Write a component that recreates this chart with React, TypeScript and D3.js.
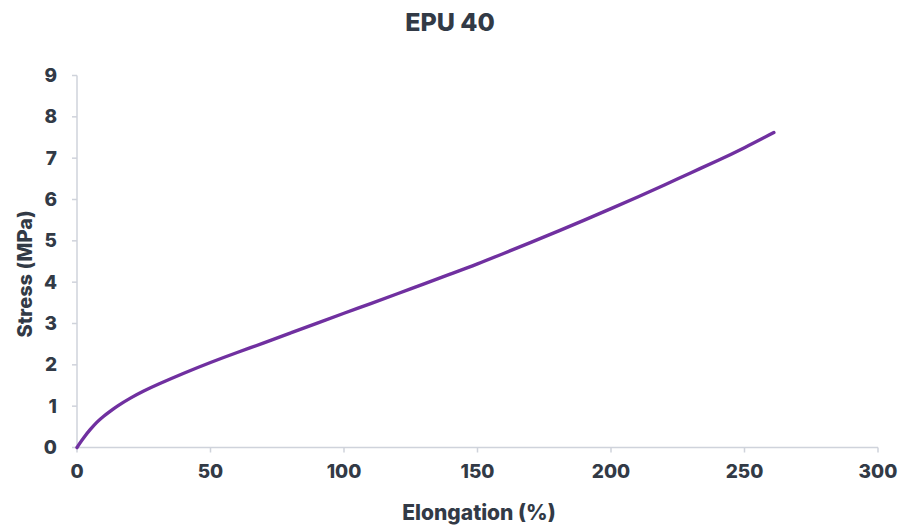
import React from "react";
import * as d3 from "d3";

const elongation = [0, 1, 2.5, 5, 7.5, 10, 12.5, 15, 20, 25, 30, 40, 50, 60, 70, 80, 90, 100, 110, 120, 130, 140, 150, 160, 170, 180, 190, 200, 210, 220, 230, 240, 250, 261];
const stress = [0, 0.1, 0.24, 0.44, 0.62, 0.76, 0.88, 1.0, 1.2, 1.37, 1.52, 1.8, 2.06, 2.3, 2.53, 2.77, 3.01, 3.25, 3.48, 3.72, 3.96, 4.2, 4.44, 4.7, 4.96, 5.23, 5.5, 5.78, 6.06, 6.35, 6.65, 6.94, 7.25, 7.62];
const xTicks = [0, 50, 100, 150, 200, 250, 300];
const yTicks = [0, 1, 2, 3, 4, 5, 6, 7, 8, 9];

const W = 902, H = 527;
const M = { left: 77, right: 24, top: 75.5, bottom: 79.5 };
const TEXT = "#323a46";
const AXIS = "#cfd3db";
const FONT = "Inter, Lato, sans-serif";

export default function App() {
  const x = d3.scaleLinear().domain([0, 300]).range([M.left, W - M.right]);
  const y = d3.scaleLinear().domain([0, 9]).range([H - M.bottom, M.top]);
  const pts = elongation.map((e, i) => [e, stress[i]] as [number, number]);
  const line = d3.line<[number, number]>().x(d => x(d[0])).y(d => y(d[1])).curve(d3.curveBasis);
  const y0 = y(0);
  return (
    <svg width={W} height={H} style={{ position: "absolute", left: 0, top: 0, background: "#fff" }} fontFamily={FONT}>
      <text x={450} y={31} textAnchor="middle" fontSize={25} fontWeight={800} fill={TEXT}>EPU 40</text>
      <line x1={x(0)} x2={x(0)} y1={y(9)} y2={y0} stroke={AXIS} strokeWidth={1.5} />
      <line x1={x(0)} x2={x(300)} y1={y0} y2={y0} stroke={AXIS} strokeWidth={1.5} />
      {yTicks.map(t => (
        <g key={"y" + t}>
          <line x1={x(0) - 5} x2={x(0)} y1={y(t)} y2={y(t)} stroke={AXIS} strokeWidth={1.5} />
          <text x={57} y={y(t) + 6.5} textAnchor="end" fontSize={19} fontWeight={800} fill={TEXT}>{t}</text>
        </g>
      ))}
      {xTicks.map(t => (
        <g key={"x" + t}>
          <line x1={x(t)} x2={x(t)} y1={y0} y2={y0 + 5} stroke={AXIS} strokeWidth={1.5} />
          <text x={x(t)} y={478} textAnchor="middle" fontSize={19} fontWeight={800} fill={TEXT}>{t}</text>
        </g>
      ))}
      <text x={479} y={520} textAnchor="middle" fontSize={21} fontWeight={800} fill={TEXT}>Elongation (%)</text>
      <text transform={`translate(32,274) rotate(-90)`} textAnchor="middle" fontSize={20} fontWeight={800} fill={TEXT}>Stress (MPa)</text>
      <path d={line(pts) || ""} fill="none" stroke="#7030a0" strokeWidth={3.4} strokeLinecap="round" />
    </svg>
  );
}
